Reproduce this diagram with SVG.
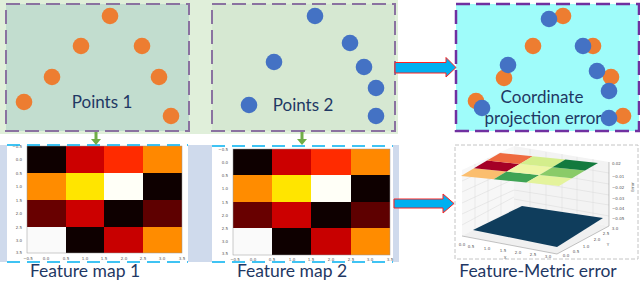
<svg xmlns="http://www.w3.org/2000/svg" width="640" height="282" viewBox="0 0 640 282">
<style>
.lbl{font-family:Lato,"Open Sans","Liberation Sans",sans-serif;fill:#1F3864}
.o{fill:#ED7D31}.b{fill:#4472C4}
.tk{font-family:"DejaVu Sans",sans-serif;font-size:4px;fill:#555}
.tkr{font-family:"DejaVu Sans",sans-serif;font-size:4px;fill:#555;text-anchor:end}
.tkm{font-family:"DejaVu Sans",sans-serif;font-size:4px;fill:#555;text-anchor:middle}
.pbox{stroke:#8A72A0;stroke-width:2;stroke-dasharray:14 6}
.cyd{stroke:#00B0F0;stroke-width:1.5;stroke-dasharray:13 7;fill:none}
.grid{stroke:#D8D8D8;stroke-width:0.5;fill:none}
.ga{fill:#70AD47}
.ba{fill:#00B0F0;stroke:#FF2020;stroke-width:1}
.sp{fill:none;stroke:#999;stroke-width:0.5}
</style>
<rect width="640" height="282" fill="#FFFFFF"/>
<rect x="0" y="0" width="398" height="134" fill="#E0EFDA"/>
<rect x="0" y="145" width="399" height="117" fill="#CFDAEC"/>

<g id="points1">
<rect x="6" y="4" width="183" height="127" fill="#C2DDCF" class="pbox"/>
<circle class="o" cx="110" cy="16" r="8.3"/>
<circle class="o" cx="81" cy="46" r="8.3"/>
<circle class="o" cx="142" cy="46" r="8.3"/>
<circle class="o" cx="52" cy="77" r="8.3"/>
<circle class="o" cx="159" cy="77" r="8.3"/>
<circle class="o" cx="24" cy="102" r="8.3"/>
<circle class="o" cx="171" cy="116" r="8.3"/>
<text class="lbl" x="102" y="108" font-size="17" text-anchor="middle">Points 1</text>
</g>

<g id="points2">
<rect x="212" y="4" width="183" height="127" fill="#D6E8D2" class="pbox"/>
<circle class="b" cx="315" cy="16" r="8.3"/>
<circle class="b" cx="350" cy="43" r="8.3"/>
<circle class="b" cx="274" cy="62" r="8.3"/>
<circle class="b" cx="364" cy="67" r="8.3"/>
<circle class="b" cx="376" cy="88" r="8.3"/>
<circle class="b" cx="249" cy="105" r="8.3"/>
<circle class="b" cx="376" cy="116" r="8.3"/>
<text class="lbl" x="303" y="111" font-size="17" text-anchor="middle">Points 2</text>
</g>

<g id="coord-error">
<rect x="456" y="4" width="183" height="127" fill="#9FFCFA" stroke="#7030A0" stroke-width="2.5" stroke-dasharray="14 6"/>
<circle class="o" cx="563" cy="16" r="8.3"/>
<circle class="o" cx="533" cy="46" r="8.3"/>
<circle class="o" cx="593" cy="46" r="8.3"/>
<circle class="o" cx="504" cy="78" r="8.3"/>
<circle class="o" cx="611" cy="77" r="8.3"/>
<circle class="o" cx="476" cy="101" r="8.3"/>
<circle class="o" cx="623" cy="116" r="8.3"/>
<text class="lbl" x="542" y="103" font-size="17" text-anchor="middle">Coordinate</text>
<text class="lbl" x="543" y="124" font-size="17" text-anchor="middle">projection error</text>
<circle class="b" cx="549" cy="19" r="8.3"/>
<circle class="b" cx="583" cy="46" r="8.3"/>
<circle class="b" cx="508" cy="65" r="8.3"/>
<circle class="b" cx="597" cy="71" r="8.3"/>
<circle class="b" cx="609" cy="91" r="8.3"/>
<circle class="b" cx="482" cy="108" r="8.3"/>
<circle class="b" cx="609" cy="118" r="8.3"/>
</g>

<g id="featmap1">
<rect x="7" y="145" width="181" height="117" fill="#FFFFFF"/>
<rect x="27" y="146" width="39" height="27" fill="#0E0000"/>
<rect x="66" y="146" width="38" height="27" fill="#CC0000"/>
<rect x="104" y="146" width="39" height="27" fill="#FF2B00"/>
<rect x="143" y="146" width="39" height="27" fill="#FF8800"/>
<rect x="27" y="173" width="39" height="27" fill="#FF8C00"/>
<rect x="66" y="173" width="38" height="27" fill="#FFE500"/>
<rect x="104" y="173" width="39" height="27" fill="#FFFFF7"/>
<rect x="143" y="173" width="39" height="27" fill="#0E0000"/>
<rect x="27" y="200" width="39" height="27" fill="#680000"/>
<rect x="66" y="200" width="38" height="27" fill="#CC0000"/>
<rect x="104" y="200" width="39" height="27" fill="#0E0000"/>
<rect x="143" y="200" width="39" height="27" fill="#5E0000"/>
<rect x="27" y="227" width="39" height="26" fill="#FAFAFA"/>
<rect x="66" y="227" width="38" height="26" fill="#0E0000"/>
<rect x="104" y="227" width="39" height="26" fill="#C80000"/>
<rect x="143" y="227" width="39" height="26" fill="#FF8C00"/>
<rect class="sp" x="27" y="146" width="155" height="107"/>
<g class="tkr">
<text x="22" y="148">−0.5</text><text x="22" y="161">0.0</text><text x="22" y="175">0.5</text>
<text x="22" y="188">1.0</text><text x="22" y="202">1.5</text><text x="22" y="215">2.0</text>
<text x="22" y="229">2.5</text><text x="22" y="242">3.0</text><text x="22" y="254">3.5</text>
</g>
<g class="tkm">
<text x="28" y="259.5">−0.5</text><text x="46" y="259.5">0.0</text><text x="66" y="259.5">0.5</text>
<text x="85" y="259.5">1.0</text><text x="104" y="259.5">1.5</text><text x="124" y="259.5">2.0</text>
<text x="143" y="259.5">2.5</text><text x="162" y="259.5">3.0</text><text x="182" y="259.5">3.5</text>
</g>
<line class="cyd" x1="7" y1="145" x2="188" y2="145"/>
<line class="cyd" x1="7" y1="262" x2="188" y2="262"/>
<text class="lbl" x="85" y="277" font-size="17.5" text-anchor="middle">Feature map 1</text>
</g>

<g id="featmap2">
<rect x="212" y="145" width="181" height="117" fill="#FFFFFF"/>
<rect x="233" y="149" width="39" height="26" fill="#0E0000"/>
<rect x="272" y="149" width="39" height="26" fill="#CC0000"/>
<rect x="311" y="149" width="40" height="26" fill="#FF2B00"/>
<rect x="351" y="149" width="39" height="26" fill="#FF8800"/>
<rect x="233" y="175" width="39" height="27" fill="#FF8C00"/>
<rect x="272" y="175" width="39" height="27" fill="#FFE500"/>
<rect x="311" y="175" width="40" height="27" fill="#FFFFF7"/>
<rect x="351" y="175" width="39" height="27" fill="#0E0000"/>
<rect x="233" y="202" width="39" height="26" fill="#680000"/>
<rect x="272" y="202" width="39" height="26" fill="#CC0000"/>
<rect x="311" y="202" width="40" height="26" fill="#0E0000"/>
<rect x="351" y="202" width="39" height="26" fill="#5E0000"/>
<rect x="233" y="228" width="39" height="27" fill="#FAFAFA"/>
<rect x="272" y="228" width="39" height="27" fill="#0E0000"/>
<rect x="311" y="228" width="40" height="27" fill="#C80000"/>
<rect x="351" y="228" width="39" height="27" fill="#FF8C00"/>
<rect class="sp" x="233" y="149" width="157" height="106"/>
<g class="tkr">
<text x="228" y="151">−0.5</text><text x="228" y="164">0.0</text><text x="228" y="177">0.5</text>
<text x="228" y="190">1.0</text><text x="228" y="204">1.5</text><text x="228" y="217">2.0</text>
<text x="228" y="230">2.5</text><text x="228" y="243">3.0</text><text x="228" y="255">3.5</text>
</g>
<g class="tkm">
<text x="235" y="260.5">−0.5</text><text x="253" y="260.5">0.0</text><text x="272" y="260.5">0.5</text>
<text x="292" y="260.5">1.0</text><text x="311" y="260.5">1.5</text><text x="331" y="260.5">2.0</text>
<text x="351" y="260.5">2.5</text><text x="370" y="260.5">3.0</text><text x="390" y="260.5">3.5</text>
</g>
<line class="cyd" x1="212" y1="146" x2="393" y2="146"/>
<line class="cyd" x1="212" y1="262" x2="393" y2="262"/>
<text class="lbl" x="292" y="277" font-size="17.5" text-anchor="middle">Feature map 2</text>
</g>

<g id="metric-error">
<rect x="455" y="145" width="183" height="114" fill="#FFFFFF" stroke="#C4C4C4" stroke-width="1" stroke-dasharray="4 2"/>
<polygon points="462,236 514,208 514,146 462,170" fill="#F7F7F7"/>
<polygon points="514,208 609,226 609,162 514,146" fill="#F3F3F3"/>
<polygon points="462,236 557,254 609,226 514,208" fill="#F0F0F0"/>
<g class="grid">
<line x1="475" y1="229" x2="475" y2="164"/><line x1="488" y1="222" x2="488" y2="158"/><line x1="501" y1="215" x2="501" y2="152"/>
<line x1="462" y1="181" x2="514" y2="157"/><line x1="462" y1="192" x2="514" y2="168"/><line x1="462" y1="203" x2="514" y2="179"/><line x1="462" y1="214" x2="514" y2="190"/><line x1="462" y1="225" x2="514" y2="197"/>
<line x1="530" y1="211" x2="530" y2="149"/><line x1="546" y1="214" x2="546" y2="152"/><line x1="562" y1="217" x2="562" y2="154"/><line x1="577" y1="220" x2="577" y2="157"/><line x1="593" y1="223" x2="593" y2="159"/>
<line x1="514" y1="157" x2="609" y2="173"/><line x1="514" y1="168" x2="609" y2="184"/><line x1="514" y1="179" x2="609" y2="195"/><line x1="514" y1="190" x2="609" y2="205"/><line x1="514" y1="199" x2="609" y2="216"/>
</g>
<polygon points="473,230 522,206 603,218 557,247" fill="#0F3D5C"/>
<polygon points="461,176 474,168.3 506.7,171.6 493.7,179.3" fill="#FBBE6E"/>
<polygon points="474,168.3 487,160.6 519.7,163.9 506.7,171.6" fill="#A50026"/>
<polygon points="487,160.6 500,153 532.7,156.2 519.7,163.9" fill="#EE6A3F"/>
<polygon points="493.7,179.3 506.7,171.6 539.4,174.9 526.4,182.6" fill="#3FA354"/>
<polygon points="506.7,171.6 519.7,163.9 552.4,167.2 539.4,174.9" fill="#EEF6A6"/>
<polygon points="519.7,163.9 532.7,156.2 565.4,159.5 552.4,167.2" fill="#D4EE8C"/>
<polygon points="526.4,182.6 539.4,174.9 572,178.3 559,186" fill="#E4F39C"/>
<polygon points="539.4,174.9 552.4,167.2 585,170.6 572,178.3" fill="#8ACB68"/>
<polygon points="552.4,167.2 565.4,159.5 598,163 585,170.6" fill="#137A3E"/>
<line x1="609" y1="162" x2="609" y2="226" stroke="#888" stroke-width="0.5"/>
<line x1="462" y1="236" x2="557" y2="254" stroke="#888" stroke-width="0.5"/>
<line x1="557" y1="254" x2="609" y2="226" stroke="#888" stroke-width="0.5"/>
<g class="tk">
<text x="612" y="165">0.02</text><text x="612" y="178">−0.01</text><text x="612" y="189">−0.02</text>
<text x="612" y="200">−0.03</text><text x="612" y="210">−0.04</text><text x="612" y="220">−0.05</text>
</g>
<text class="tk" transform="translate(634,192) rotate(-90)">Error</text>
<g class="tkm">
<text x="462" y="246">0.0</text><text x="471" y="248">0.5</text><text x="487" y="250">1.0</text>
<text x="503" y="252">1.5</text><text x="518" y="254">2.0</text><text x="533" y="256">2.5</text><text x="548" y="258">3.0</text>
<text x="505" y="259">X</text>
<text x="566" y="257">0.0</text><text x="576" y="253">0.5</text><text x="586" y="248">1.0</text>
<text x="597" y="241">2.0</text><text x="606" y="235">2.5</text><text x="615" y="230">3.0</text>
<text x="608" y="246">Y</text>
</g>
<text class="lbl" x="538" y="277" font-size="17.5" text-anchor="middle">Feature-Metric error</text>
</g>

<g id="connectors">
<rect class="ga" x="94.5" y="132" width="3" height="8"/>
<polygon class="ga" points="91,139 101,139 96,145"/>
<rect class="ga" x="300.5" y="132" width="3" height="8"/>
<polygon class="ga" points="297,139 307,139 302,145"/>
<polygon class="ba" points="395,62.5 446,62.5 446,57.5 456,67.5 446,77 446,73 395,73"/>
<polygon class="ba" points="394,199 443,199 443,194 454,203.5 443,213 443,208 394,208"/>
</g>
</svg>
